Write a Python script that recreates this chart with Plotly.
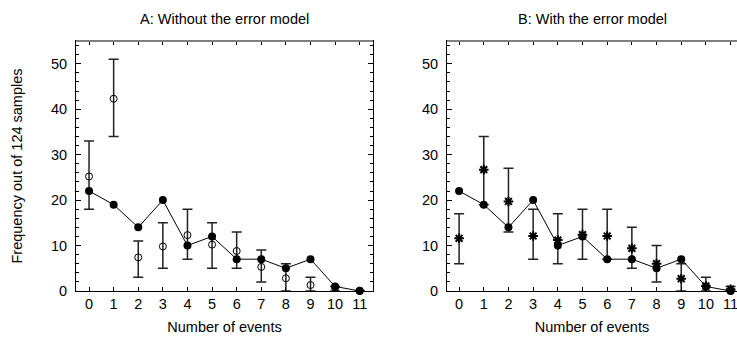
import plotly.graph_objects as go

events = list(range(12))
observed = [22, 19, 14, 20, 10, 12, 7, 7, 5, 7, 1, 0]

# Panel A: model without error model (mean, upper, lower)
a_mean = [25.2, 42.3, 7.4, 9.8, 12.3, 10.2, 8.8, 5.3, 2.8, 1.3, 0.7, 0.1]
a_upper = [33, 51, 11, 15, 18, 15, 13, 9, 6, 3, 1, 0.1]
a_lower = [18, 34, 3, 5, 7, 5, 5, 2, 0, 0, 0, 0.1]

# Panel B: model with error model
b_mean = [11.6, 26.7, 19.7, 12.1, 11.2, 12.4, 12.1, 9.4, 6.0, 2.7, 1.1, 0.4]
b_upper = [17, 34, 27, 18, 17, 18, 18, 14, 10, 6, 3, 1]
b_lower = [6, 19, 13, 7, 6, 7, 7, 5, 2, 0, 0, 0]

x_ticks = list(range(12))
y_ticks = [0, 10, 20, 30, 40, 50]

FONT = "Liberation Sans, Arial, sans-serif"
FS = 14.5
W, H = 737, 337

fig = go.Figure()

def add_panel(xa, ya, mean, up, lo, symbol, size, lw):
    fig.add_trace(go.Scatter(
        x=events, y=mean, mode="markers", xaxis=xa, yaxis=ya,
        marker=dict(symbol=symbol, size=size, color="black",
                    line=dict(color="black", width=lw)),
        error_y=dict(type="data", symmetric=False,
                     array=[u - m for u, m in zip(up, mean)],
                     arrayminus=[m - l for m, l in zip(mean, lo)],
                     color="#222222", thickness=1.5, width=5),
        showlegend=False, cliponaxis=False))
    fig.add_trace(go.Scatter(
        x=events, y=observed, mode="lines+markers", xaxis=xa, yaxis=ya,
        line=dict(color="black", width=1),
        marker=dict(symbol="circle", size=8, color="black"),
        showlegend=False, cliponaxis=False))

add_panel("x", "y", a_mean, a_upper, a_lower, "circle-open", 7, 1)
add_panel("x2", "y2", b_mean, b_upper, b_lower, "asterisk-open", 8, 2)

xd1 = [76 / W, 373 / W]
xd2 = [447 / W, 1.0]
yd = [46 / H, 296 / H]

xcommon = dict(tickmode="array", tickvals=x_ticks, ticks="inside", ticklen=4,
               tickcolor="black", showline=True, linecolor="black", linewidth=1,
               mirror="ticks", showgrid=False, zeroline=False, automargin=False,
               ticklabeloverflow="allow",
               tickfont=dict(family=FONT, size=FS, color="black"),
               title=dict(text="Number of events", standoff=10,
                          font=dict(family=FONT, size=FS, color="black")))
ycommon = dict(tickmode="array", tickvals=y_ticks, range=[0, 55], ticks="inside",
               ticklen=5, tickcolor="black", showline=True, linecolor="black",
               linewidth=1, showgrid=False, zeroline=False, automargin=False,
               ticklabelstandoff=5,
               minor=dict(dtick=2, ticks="inside", ticklen=3, tickcolor="black"),
               tickfont=dict(family=FONT, size=FS, color="black"))

fig.update_layout(
    width=W, height=H, margin=dict(l=0, r=0, t=0, b=0),
    plot_bgcolor="white", paper_bgcolor="white",
    xaxis=dict(domain=xd1, range=[-0.53, 11.54], anchor="y", **xcommon),
    yaxis=dict(domain=yd, anchor="x", mirror="ticks",
               title=dict(text="Frequency out of 124 samples", standoff=24,
                          font=dict(family=FONT, size=FS, color="black")),
               **ycommon),
    xaxis2=dict(domain=xd2, range=[-0.49, 11.26], anchor="y2", **xcommon),
    yaxis2=dict(domain=yd, anchor="x2", mirror=False, **ycommon),
)

# grey top borders
for d in (xd1, xd2):
    fig.add_shape(type="line", xref="paper", yref="paper", x0=d[0], x1=d[1],
                  y0=yd[1], y1=yd[1], line=dict(color="#808080", width=2))

for text, d in (("A: Without the error model", xd1), ("B: With the error model", xd2)):
    fig.add_annotation(text=text, xref="paper", yref="paper",
                       x=(d[0] + d[1]) / 2, y=1 - 19 / H, xanchor="center",
                       yanchor="middle", showarrow=False,
                       font=dict(family=FONT, size=FS, color="black"))

fig.write_html("out.html", config={"displayModeBar": False},
               post_script="document.body.style.margin='0px';document.body.style.overflow='hidden';")
